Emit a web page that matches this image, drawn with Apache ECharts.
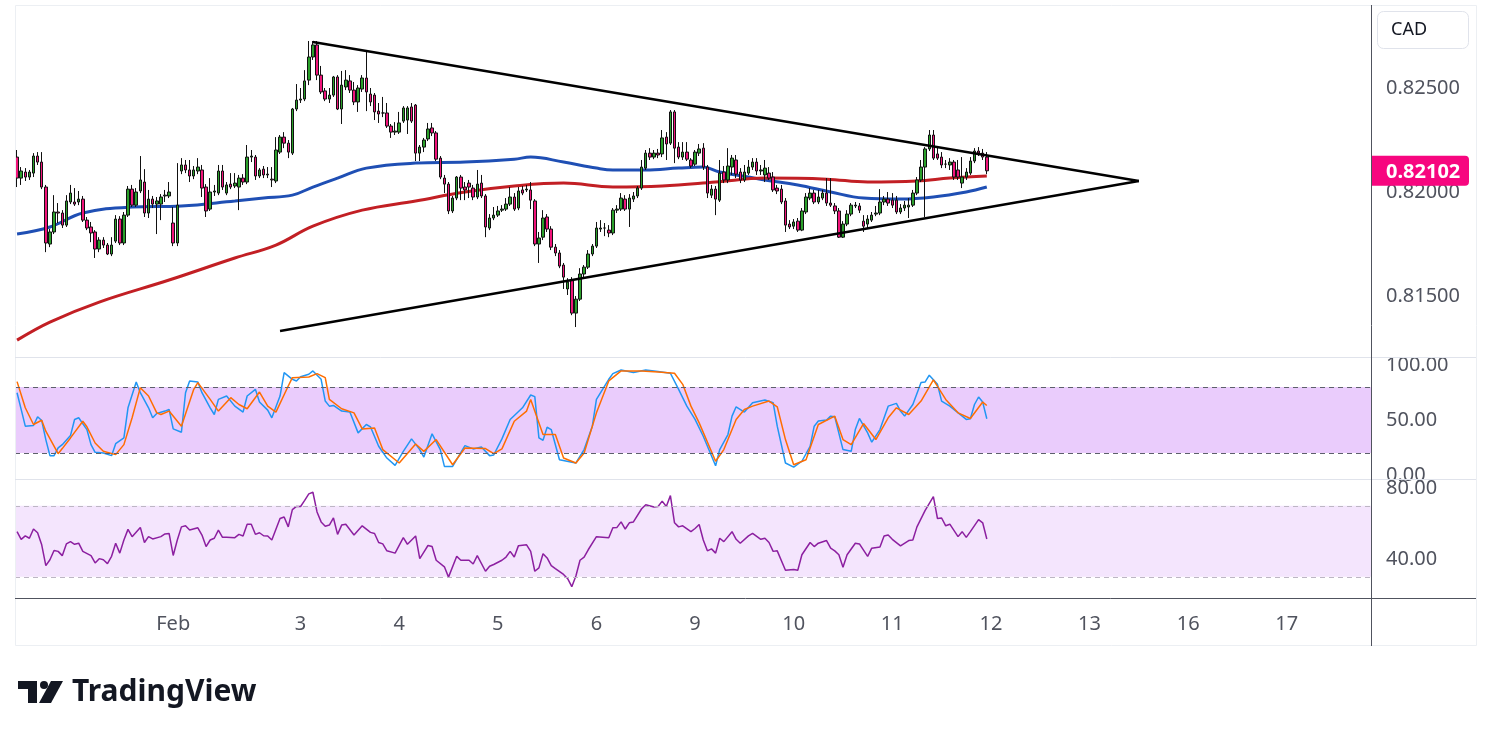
<!DOCTYPE html>
<html>
<head>
<meta charset="utf-8">
<title>CAD 1H</title>
<script src="https://cdn.jsdelivr.net/npm/echarts@6/dist/echarts.min.js"></script>
<style>
  html, body { margin: 0; padding: 0; background: #fff; }
  #chart { width: 1491px; height: 737px; }
</style>
</head>
<body>
<div id="chart"></div>
<script>
// hourly bars, Jan 29 .. Feb 12, plus empty future slots up to Feb 17
const slotCount = 330;
const tickIndex = [38, 69, 93, 117, 141, 165, 189, 213, 237, 261, 285, 309];
const tickLabels = ['Feb', '3', '4', '5', '6', '9', '10', '11', '12', '13', '16', '17'];

// [open, close, low, high]
const candles = [
  [0.82168,0.82067,0.82024,0.82202],[0.82067,0.82101,0.82034,0.82120],[0.82096,0.82072,0.82053,0.82115],[0.82072,0.82096,0.82058,0.82106],
  [0.82091,0.82173,0.82072,0.82187],[0.82173,0.82144,0.82130,0.82192],[0.82144,0.82024,0.82014,0.82192],[0.82024,0.81755,0.81711,0.82034],
  [0.81750,0.81808,0.81735,0.81822],[0.81808,0.81904,0.81798,0.81985],[0.81904,0.81899,0.81851,0.81947],[0.81899,0.81841,0.81827,0.81913],
  [0.81841,0.81957,0.81832,0.81985],[0.81952,0.81995,0.81942,0.82034],[0.81952,0.81942,0.81933,0.82019],[0.81952,0.81966,0.81937,0.82005],
  [0.81966,0.81865,0.81856,0.81981],[0.81865,0.81827,0.81817,0.81880],[0.81832,0.81803,0.81759,0.81856],[0.81808,0.81726,0.81683,0.81817],
  [0.81726,0.81769,0.81711,0.81783],[0.81769,0.81745,0.81731,0.81783],[0.81745,0.81702,0.81697,0.81755],[0.81702,0.81745,0.81692,0.81783],
  [0.81764,0.81870,0.81755,0.81889],[0.81870,0.81755,0.81745,0.81884],[0.81755,0.81889,0.81745,0.81904],[0.81889,0.82014,0.81880,0.82029],
  [0.82014,0.81937,0.81928,0.82034],[0.81937,0.82000,0.81928,0.82019],[0.82005,0.82058,0.81995,0.82173],[0.82048,0.81899,0.81880,0.82110],
  [0.81899,0.81966,0.81875,0.82010],[0.81966,0.81942,0.81923,0.81981],[0.81942,0.81957,0.81798,0.81976],[0.81942,0.81976,0.81865,0.81990],
  [0.81981,0.81985,0.81952,0.82010],[0.81981,0.82000,0.81971,0.82048],[0.81851,0.81755,0.81740,0.81928],[0.81755,0.81937,0.81740,0.82139],
  [0.82101,0.82130,0.82086,0.82163],[0.82130,0.82106,0.82091,0.82154],[0.82106,0.82077,0.82048,0.82154],[0.82077,0.82106,0.82062,0.82125],
  [0.82101,0.82120,0.82086,0.82163],[0.82106,0.82019,0.81976,0.82130],[0.82024,0.81909,0.81880,0.82038],[0.81918,0.82000,0.81909,0.82067],
  [0.82000,0.82005,0.81981,0.82034],[0.81995,0.82101,0.81985,0.82130],[0.82101,0.82024,0.82010,0.82130],[0.81995,0.82034,0.81985,0.82048],
  [0.82038,0.82024,0.82014,0.82091],[0.82029,0.82043,0.82019,0.82091],[0.82024,0.82067,0.81913,0.82082],[0.82067,0.82048,0.82034,0.82086],
  [0.82048,0.82168,0.82038,0.82226],[0.82168,0.82173,0.82144,0.82202],[0.82168,0.82077,0.82058,0.82178],[0.82077,0.82106,0.82067,0.82115],
  [0.82110,0.82082,0.82067,0.82125],[0.82082,0.82086,0.82067,0.82120],[0.82062,0.82058,0.82024,0.82120],[0.82053,0.82202,0.82043,0.82264],
  [0.82192,0.82264,0.82183,0.82274],[0.82264,0.82235,0.82211,0.82288],[0.82235,0.82192,0.82163,0.82250],[0.82187,0.82399,0.82178,0.82404],
  [0.82399,0.82442,0.82389,0.82519],[0.82442,0.82447,0.82428,0.82500],[0.82447,0.82534,0.82437,0.82586],[0.82538,0.82649,0.82514,0.82726],
  [0.82649,0.82707,0.82635,0.82726],[0.82707,0.82562,0.82538,0.82726],[0.82562,0.82481,0.82471,0.82606],[0.82486,0.82447,0.82437,0.82500],
  [0.82447,0.82466,0.82428,0.82500],[0.82466,0.82553,0.82457,0.82558],[0.82553,0.82399,0.82394,0.82562],[0.82399,0.82514,0.82327,0.82582],
  [0.82505,0.82538,0.82490,0.82586],[0.82534,0.82490,0.82476,0.82562],[0.82490,0.82433,0.82418,0.82529],[0.82433,0.82500,0.82385,0.82514],
  [0.82495,0.82548,0.82481,0.82562],[0.82548,0.82481,0.82389,0.82673],[0.82471,0.82433,0.82413,0.82500],[0.82466,0.82385,0.82346,0.82476],
  [0.82389,0.82375,0.82332,0.82428],[0.82380,0.82380,0.82360,0.82457],[0.82380,0.82317,0.82308,0.82428],[0.82317,0.82288,0.82260,0.82327],
  [0.82288,0.82293,0.82274,0.82336],[0.82288,0.82332,0.82279,0.82385],[0.82341,0.82404,0.82332,0.82413],[0.82346,0.82404,0.82279,0.82413],
  [0.82409,0.82341,0.82332,0.82428],[0.82418,0.82187,0.82149,0.82423],[0.82187,0.82216,0.82149,0.82226],[0.82216,0.82250,0.82192,0.82260],
  [0.82255,0.82303,0.82245,0.82332],[0.82308,0.82284,0.82269,0.82332],[0.82284,0.82158,0.82149,0.82293],[0.82163,0.82072,0.82062,0.82173],
  [0.82067,0.82038,0.81995,0.82082],[0.82038,0.81909,0.81894,0.82048],[0.81909,0.81971,0.81899,0.81981],[0.81971,0.82072,0.81961,0.82077],
  [0.82072,0.82019,0.81961,0.82082],[0.82024,0.82010,0.81961,0.82048],[0.82043,0.82024,0.81971,0.82058],[0.82019,0.81976,0.81961,0.82034],
  [0.81976,0.82038,0.81966,0.82106],[0.82043,0.81981,0.81971,0.82082],[0.81981,0.81832,0.81783,0.81990],[0.81827,0.81875,0.81817,0.81894],
  [0.81875,0.81889,0.81865,0.81928],[0.81889,0.81909,0.81880,0.81933],[0.81913,0.81918,0.81904,0.81937],[0.81918,0.81942,0.81909,0.81971],
  [0.81942,0.81976,0.81933,0.82024],[0.81976,0.81918,0.81909,0.81995],[0.81923,0.82005,0.81913,0.82024],[0.82010,0.81995,0.81985,0.82029],
  [0.82010,0.82014,0.82000,0.82034],[0.82010,0.81961,0.81918,0.82048],[0.81957,0.81750,0.81740,0.81966],[0.81750,0.81779,0.81659,0.81808],
  [0.81783,0.81875,0.81769,0.81913],[0.81880,0.81822,0.81808,0.81894],[0.81822,0.81735,0.81721,0.81836],[0.81735,0.81707,0.81692,0.81750],
  [0.81707,0.81644,0.81634,0.81721],[0.81649,0.81591,0.81534,0.81659],[0.81534,0.81567,0.81505,0.81586],[0.81577,0.81418,0.81408,0.81591],
  [0.81418,0.81485,0.81351,0.81500],[0.81485,0.81606,0.81476,0.81634],[0.81606,0.81639,0.81591,0.81649],[0.81639,0.81702,0.81630,0.81721],
  [0.81702,0.81740,0.81692,0.81750],[0.81740,0.81827,0.81731,0.81856],[0.81822,0.81827,0.81808,0.81865],[0.81827,0.81827,0.81788,0.81851],
  [0.81817,0.81803,0.81783,0.81841],[0.81803,0.81913,0.81793,0.81923],[0.81913,0.81918,0.81899,0.81937],[0.81918,0.81971,0.81909,0.81995],
  [0.81966,0.81918,0.81909,0.81985],[0.81918,0.81971,0.81832,0.81990],[0.81966,0.81981,0.81952,0.82000],[0.81981,0.82019,0.81971,0.82029],
  [0.82019,0.82120,0.82010,0.82154],[0.82115,0.82187,0.82106,0.82202],[0.82187,0.82168,0.82154,0.82211],[0.82168,0.82187,0.82158,0.82202],
  [0.82187,0.82178,0.82163,0.82207],[0.82183,0.82260,0.82168,0.82298],[0.82264,0.82231,0.82154,0.82288],[0.82235,0.82385,0.82226,0.82394],
  [0.82385,0.82211,0.82139,0.82394],[0.82216,0.82168,0.82158,0.82240],[0.82168,0.82192,0.82154,0.82240],[0.82192,0.82158,0.82149,0.82240],
  [0.82154,0.82125,0.82115,0.82163],[0.82134,0.82192,0.82125,0.82202],[0.82187,0.82207,0.82173,0.82231],[0.82211,0.82120,0.82106,0.82235],
  [0.82120,0.81995,0.81971,0.82130],[0.81985,0.82014,0.81971,0.82034],[0.82014,0.81966,0.81889,0.82029],[0.81961,0.82091,0.81952,0.82154],
  [0.82096,0.82058,0.82043,0.82125],[0.82058,0.82125,0.82043,0.82211],[0.82120,0.82163,0.82082,0.82178],[0.82154,0.82086,0.82067,0.82178],
  [0.82096,0.82058,0.82043,0.82115],[0.82058,0.82096,0.82048,0.82130],[0.82091,0.82120,0.82082,0.82154],[0.82120,0.82144,0.82106,0.82163],
  [0.82144,0.82101,0.82082,0.82163],[0.82101,0.82106,0.82082,0.82130],[0.82082,0.82115,0.82048,0.82154],[0.82091,0.82067,0.82058,0.82120],
  [0.82072,0.82010,0.82000,0.82096],[0.82019,0.82005,0.81990,0.82034],[0.82014,0.81952,0.81942,0.82034],[0.81957,0.81841,0.81808,0.81971],
  [0.81846,0.81832,0.81822,0.81865],[0.81836,0.81856,0.81822,0.81870],[0.81860,0.81817,0.81808,0.81875],[0.81817,0.81909,0.81812,0.81923],
  [0.81904,0.81976,0.81894,0.81995],[0.81971,0.81995,0.81961,0.82019],[0.81995,0.81952,0.81942,0.82010],[0.81952,0.81976,0.81942,0.82010],
  [0.81971,0.81995,0.81961,0.82010],[0.81995,0.81947,0.81933,0.82067],[0.81947,0.81937,0.81928,0.82067],[0.81933,0.81909,0.81894,0.81947],
  [0.81909,0.81783,0.81779,0.81923],[0.81783,0.81846,0.81779,0.81860],[0.81846,0.81894,0.81836,0.81913],[0.81894,0.81937,0.81884,0.81947],
  [0.81933,0.81937,0.81923,0.81952],[0.81933,0.81913,0.81899,0.81947],[0.81860,0.81836,0.81808,0.81889],[0.81846,0.81870,0.81822,0.81889],
  [0.81865,0.81889,0.81856,0.81904],[0.81894,0.81899,0.81884,0.81933],[0.81899,0.81952,0.81889,0.82014],[0.81952,0.81966,0.81937,0.81981],
  [0.81966,0.81947,0.81933,0.82000],[0.81961,0.81937,0.81923,0.81995],[0.81961,0.81904,0.81894,0.81981],[0.81904,0.81923,0.81894,0.81942],
  [0.81923,0.81937,0.81909,0.81957],[0.81928,0.81937,0.81875,0.81971],[0.81937,0.81995,0.81928,0.82010],[0.81995,0.82058,0.81985,0.82072],
  [0.82058,0.82120,0.82048,0.82154],[0.82120,0.82207,0.81880,0.82216],[0.82207,0.82274,0.82197,0.82298],[0.82274,0.82163,0.82154,0.82298],
  [0.82183,0.82163,0.82154,0.82216],[0.82168,0.82130,0.82115,0.82192],[0.82134,0.82134,0.82115,0.82154],[0.82130,0.82144,0.82106,0.82163],
  [0.82144,0.82072,0.82058,0.82154],[0.82106,0.82072,0.82058,0.82154],[0.82043,0.82072,0.82019,0.82168],[0.82072,0.82096,0.82058,0.82115],
  [0.82091,0.82149,0.82082,0.82168],[0.82149,0.82197,0.82139,0.82211],[0.82197,0.82187,0.82173,0.82216],[0.82187,0.82168,0.82154,0.82207],
  [0.82168,0.82102,0.82086,0.82192]
];

// moving averages, read at sampled bars: [bar, value]
const blueMA = [
  [0,0.81798],[8,0.81832],[16,0.81899],[28,0.81928],[40,0.81933],[53,0.81957],[60,0.81971],[67,0.81985],
  [72,0.82024],[78,0.82067],[85,0.82115],[97,0.82139],[109,0.82144],[121,0.82158],[125,0.82168],[133,0.82144],
  [141,0.82115],[145,0.82106],[153,0.82106],[161,0.82115],[167,0.82120],[171,0.82096],[178,0.82072],[182,0.82058],
  [190,0.82034],[198,0.82000],[206,0.81971],[215,0.81966],[223,0.81976],[231,0.82000],[236,0.82024]
];
const redMA = [
  [0,0.81288],[8,0.81375],[20,0.81471],[37,0.81577],[53,0.81683],[63,0.81745],[72,0.81836],[84,0.81913],
  [97,0.81957],[109,0.82000],[121,0.82029],[133,0.82043],[145,0.82024],[157,0.82029],[170,0.82048],[182,0.82067],
  [197,0.82062],[207,0.82048],[219,0.82053],[227,0.82067],[236,0.82077]
];

// triangle trend lines
const upperTrend = [[72, 0.82721], [273, 0.82053]];
const lowerTrend = [[64, 0.81332], [273, 0.82053]];

// stochastic %K / %D
const stochK = [
  [0,74.8],[1,59.6],[2,44.4],[4,45],[5,52.9],[6,49.5],[7,32.2],[8,17.6],[9,17.6],[10,24.6],[11,27.6],[13,35.8],
  [14,50.5],[15,52],[17,41.3],[18,27.6],[19,20.6],[21,20],[23,17.6],[24,28.5],[26,33.7],[27,61.1],[29,84.6],[30,74.8],
  [32,61.1],[33,52],[34,55.9],[36,58.1],[37,59.6],[38,41.9],[40,38.9],[41,74.8],[42,85.5],[44,84.6],[45,74.8],[47,61.1],
  [48,55],[49,68.7],[51,71.8],[53,62.6],[55,57.2],[56,71.8],[58,77.9],[59,66.3],[61,59],[62,52],[64,71.8],[65,93.1],
  [67,87],[68,85.5],[69,89.4],[71,91.6],[72,94.6],[74,87],[75,67.2],[76,62.6],[77,63.2],[79,58.1],[81,57.2],[83,38.3],
  [85,45.9],[86,43.8],[88,26.1],[90,15.4],[92,8.7],[94,21.5],[96,32.8],[98,23.1],[99,16.3],[101,37.4],[103,23.1],[104,7.8],
  [106,7.8],[109,26.7],[111,23.7],[113,25.5],[115,17.6],[116,18.2],[118,32.8],[120,50.5],[123,61.1],[125,72.7],[126,71.2],[127,33.7],
  [128,31.6],[129,43.4],[130,41.3],[132,13.9],[136,10.9],[138,23.1],[140,44.4],[141,68.7],[144,87],[145,92.2],[147,95.5],[150,93.1],
  [153,95.5],[156,94],[159,92.5],[161,77.9],[163,62.6],[165,50.5],[167,35.2],[170,8.4],[171,23.1],[173,36.8],[174,53.5],[175,62],
  [177,57.2],[179,65.7],[182,68.1],[184,65.7],[185,44.4],[187,10.9],[189,7.2],[191,12.5],[193,26.1],[194,44.4],[195,49],[197,49.9],
  [198,53.5],[199,52.9],[201,23.1],[203,21.5],[204,41.3],[205,51.4],[207,38.3],[208,29.8],[210,41.3],[212,62.6],[214,65.1],[215,58.1],
  [216,53.5],[218,64.1],[220,84],[221,84.6],[222,90.7],[224,82.4],[225,67.2],[227,62.6],[231,50.5],[232,51.1],[233,64.1],[234,70.9],
  [235,66.3],[236,51.1]
];
const stochD = [
  [0,84.9],[2,61.1],[4,45.9],[6,49.8],[7,39.8],[10,19.4],[11,24],[13,33.7],[16,48.9],[17,43.8],[19,29.1],[21,21.5],
  [24,18.5],[26,27.6],[28,52],[30,79.4],[32,71.8],[34,56.5],[35,55],[37,58.1],[40,44.4],[43,77.9],[44,84],[47,68.7],
  [49,58.1],[52,70.3],[54,64.1],[56,60.2],[59,75.4],[61,62.6],[63,57.2],[66,80.9],[67,88.5],[71,89.1],[73,92.2],[75,88.5],
  [76,68.7],[79,60.2],[82,56.5],[84,41.9],[87,42.8],[89,23.1],[93,10.9],[97,28.2],[99,21.5],[102,32.2],[106,9.3],[109,24.6],
  [114,24],[116,19.4],[118,23.7],[121,48.9],[124,58.1],[125,68.7],[128,36.8],[131,36.8],[133,15.4],[136,10.9],[138,20],[141,56.5],
  [144,85.5],[147,94.6],[152,94.6],[156,93.7],[160,92.5],[162,82.4],[164,62.6],[166,47.4],[170,12.5],[172,23.1],[175,50.5],[177,59.6],
  [179,62.6],[183,67.2],[185,62],[187,32.2],[189,9.3],[192,13.9],[195,45.9],[199,53.5],[201,32.2],[203,27.6],[206,46.8],[209,32.2],
  [212,52],[214,61.1],[217,55],[220,67.2],[223,86.4],[226,68.7],[229,56.5],[232,51.4],[235,66.3],[236,63.2]
];

// RSI
const rsi = [
  [0,55.4],[1,51.1],[2,53],[3,51.7],[4,56.9],[5,54.8],[6,48],[7,36.3],[8,39.6],[9,44.8],[10,44.3],[11,41.9],
  [12,48.5],[13,49.8],[14,48.3],[15,48.9],[16,44.3],[18,41.9],[19,37.8],[20,40.2],[21,39.6],[22,37.4],[23,41.5],[24,48.9],
  [25,43.3],[26,50.7],[27,56.7],[28,52.6],[30,57.8],[31,49.3],[32,52.6],[33,51.3],[35,52.6],[36,54.1],[37,54.4],[38,42],
  [39,50.7],[40,58.1],[41,58.7],[42,56.3],[44,57.6],[45,53.5],[46,47],[47,50.7],[48,51.7],[49,56.3],[50,52.2],[51,52.2],
  [53,52],[54,53.9],[55,53],[56,59.6],[57,59.6],[58,53.9],[59,54.8],[60,53.1],[61,53],[62,50.7],[64,62.8],[65,63.7],
  [66,58.1],[67,67.8],[68,69.6],[69,69.6],[70,73],[71,76.7],[72,77.6],[73,66.5],[74,60.9],[75,58.5],[76,59.1],[77,63.1],
  [78,53.9],[79,59.1],[80,59.6],[82,53.5],[84,58.7],[86,55],[87,54.4],[88,49.3],[89,48.5],[90,44.6],[92,43.3],[94,52],
  [95,48.3],[97,53],[98,40.2],[99,43.9],[100,47.6],[101,47],[102,39.3],[104,35.6],[105,29.8],[107,41.5],[108,39.3],[110,39.3],
  [111,37.2],[112,41.9],[114,33.1],[115,35.9],[116,36.9],[118,39.3],[119,41.1],[120,44.3],[121,41.1],[122,47.4],[124,48],[125,44.3],
  [126,33.1],[127,35],[128,43],[129,40.6],[130,36.3],[131,34.6],[133,31.3],[134,28.9],[135,24.4],[136,30.4],[137,39.3],[138,41.1],
  [139,45.2],[141,52.6],[144,52],[145,57.6],[146,57.8],[147,60.9],[148,56.9],[149,60.4],[150,60.9],[152,68.3],[153,70.6],[155,69.3],
  [156,69.6],[157,72.6],[158,69.6],[159,75.7],[160,60.4],[161,58.1],[162,58.7],[164,55.4],[165,57.2],[166,59.4],[167,50.7],[168,44.6],
  [169,45.7],[170,43.3],[171,51.7],[172,49.8],[174,55.4],[175,51.1],[176,48.9],[178,53],[179,54.4],[181,51.1],[182,51.7],[183,49.3],
  [184,44.3],[185,44.6],[187,33.7],[189,34.1],[190,33.7],[191,42.4],[193,49.3],[194,47],[195,48.9],[197,50.4],[198,46.1],[199,44.6],
  [200,42.4],[201,35.4],[202,42.4],[204,48.9],[205,48.5],[207,41.5],[208,46.1],[210,46.7],[211,53],[212,53.5],[213,51.1],[215,47.4],
  [217,50.4],[218,50.7],[219,58.1],[221,67.4],[223,75.2],[224,62.8],[225,63.1],[226,58.7],[227,59.6],[229,52.6],[230,55.4],[231,52.2],
  [232,55.4],[234,62.2],[235,60.4],[236,51.3]
];

const lastClose = candles[candles.length - 1][1];

const categories = Array.from({ length: slotCount }, (_, i) => String(i));
const tickMap = {};
tickIndex.forEach((idx, k) => { tickMap[idx] = tickLabels[k]; });

const labelFont = { fontFamily: 'Noto Sans', fontSize: 20, color: '#50535e' };
const plotLeft = 15, plotWidth = 1356;

function xAxisFor(gridIndex, showLabels) {
    return {
        type: 'category',
        gridIndex: gridIndex,
        data: categories,
        boundaryGap: true,
        axisLine: { show: false },
        axisTick: { show: false },
        splitLine: { show: false },
        axisLabel: showLabels ? {
            show: true,
            margin: 16,
            ...labelFont,
            interval: (idx) => tickMap[idx] !== undefined,
            formatter: (val, idx) => tickMap[idx] || ''
        } : { show: false }
    };
}

function yAxisFor(gridIndex, min, max, values, digits) {
    return {
        type: 'value',
        gridIndex: gridIndex,
        position: 'right',
        min: min,
        max: max,
        scale: true,
        axisLine: { show: false },
        axisTick: { show: false },
        splitLine: { show: false },
        axisLabel: {
            show: true,
            margin: 15,
            ...labelFont,
            customValues: values,
            formatter: (v) => v.toFixed(digits)
        }
    };
}

function thinLine(name, data, color, xi, width) {
    return {
        name: name,
        type: 'line',
        xAxisIndex: xi,
        yAxisIndex: xi,
        data: data,
        symbol: 'none',
        silent: true,
        lineStyle: { color: color, width: width || 1.5 },
        z: 3
    };
}

const chart = echarts.init(document.getElementById('chart'), null, { renderer: 'canvas' });

const option = {
    animation: false,
    backgroundColor: '#ffffff',
    grid: [
        { left: plotLeft, top: 5, width: plotWidth, height: 352 },
        { left: plotLeft, top: 357, width: plotWidth, height: 122 },
        { left: plotLeft, top: 479, width: plotWidth, height: 119 }
    ],
    xAxis: [xAxisFor(0, false), xAxisFor(1, false), xAxisFor(2, true)],
    yAxis: [
        yAxisFor(0, 0.81207, 0.82899, [0.815, 0.82, 0.825], 5),
        yAxisFor(1, -3.64, 107.27, [0, 50, 100], 2),
        yAxisFor(2, 18.03, 85.07, [40, 80], 2)
    ],
    series: [
        {
            name: 'CAD',
            type: 'candlestick',
            xAxisIndex: 0,
            yAxisIndex: 0,
            data: candles,
            barWidth: 3,
            silent: true,
            itemStyle: {
                color: '#2ba02b',
                color0: '#f0147a',
                borderColor: '#111111',
                borderColor0: '#111111',
                borderWidth: 1
            },
            z: 4
        },
        {
            name: 'MA fast',
            type: 'line',
            data: blueMA,
            smooth: 0.4,
            symbol: 'none',
            silent: true,
            lineStyle: { color: '#1f4fb4', width: 3 },
            z: 3
        },
        {
            name: 'MA slow',
            type: 'line',
            data: redMA,
            smooth: 0.4,
            symbol: 'none',
            silent: true,
            lineStyle: { color: '#c21f24', width: 3 },
            z: 3
        },
        {
            name: 'upper',
            type: 'line',
            data: upperTrend,
            symbol: 'none',
            silent: true,
            lineStyle: { color: '#000000', width: 2.5 },
            z: 5
        },
        {
            name: 'lower',
            type: 'line',
            data: lowerTrend,
            symbol: 'none',
            silent: true,
            lineStyle: { color: '#000000', width: 2.5 },
            z: 5
        },
        Object.assign(thinLine('%K', stochK, '#2196f3', 1), {
            markArea: {
                silent: true,
                itemStyle: { color: '#eaccfc' },
                data: [[{ yAxis: 20 }, { yAxis: 80 }]]
            },
            markLine: {
                silent: true,
                symbol: 'none',
                label: { show: false },
                lineStyle: { color: '#5d606b', type: [5, 4], width: 1 },
                data: [{ yAxis: 80 }, { yAxis: 20 }]
            }
        }),
        thinLine('%D', stochD, '#ff6d00', 1),
        Object.assign(thinLine('RSI', rsi, '#8c1fa0', 2), {
            markArea: {
                silent: true,
                itemStyle: { color: '#f4e5fd' },
                data: [[{ yAxis: 30 }, { yAxis: 70 }]]
            },
            markLine: {
                silent: true,
                symbol: 'none',
                label: { show: false },
                lineStyle: { color: '#bdb6c4', type: [5, 4], width: 1 },
                data: [{ yAxis: 70 }, { yAxis: 30 }]
            }
        })
    ]
};

chart.setOption(option);

// price scale badge, frame, separators and the wordmark
const priceY = chart.convertToPixel({ yAxisIndex: 0 }, lastClose);
const right = 1476, axisX = 1371;

chart.setOption({
    graphic: [
        { type: 'rect', silent: true, z: 50, shape: { x: 15.5, y: 5.5, width: right - 15, height: 640 },
          style: { fill: 'none', stroke: '#eceff3', lineWidth: 1 } },
        { type: 'line', silent: true, z: 50, shape: { x1: 15, y1: 357.5, x2: right, y2: 357.5 },
          style: { stroke: '#e0e3eb', lineWidth: 1 } },
        { type: 'line', silent: true, z: 50, shape: { x1: 15, y1: 479.5, x2: right, y2: 479.5 },
          style: { stroke: '#e0e3eb', lineWidth: 1 } },
        { type: 'line', silent: true, z: 50, shape: { x1: 15, y1: 598.5, x2: right, y2: 598.5 },
          style: { stroke: '#50535e', lineWidth: 1 } },
        { type: 'line', silent: true, z: 50, shape: { x1: axisX + 0.5, y1: 5, x2: axisX + 0.5, y2: 646 },
          style: { stroke: '#50535e', lineWidth: 1 } },
        { type: 'rect', silent: true, z: 60, shape: { x: 1377.5, y: 11.5, width: 91, height: 37, r: 6 },
          style: { fill: '#ffffff', stroke: '#e0e3eb', lineWidth: 1 } },
        { type: 'text', silent: true, z: 61, x: 1391, y: 30,
          style: { text: 'CAD', fontFamily: 'Noto Sans', fontSize: 18, fill: '#131722', verticalAlign: 'middle' } },
        { type: 'rect', silent: true, z: 60, shape: { x: axisX + 1, y: priceY - 15, width: 97, height: 30, r: [0, 4, 4, 0] },
          style: { fill: '#f7067f' } },
        { type: 'text', silent: true, z: 61, x: 1386, y: priceY + 1,
          style: { text: lastClose.toFixed(5), fontFamily: 'Noto Sans', fontSize: 20, fontWeight: 'bold',
                   fill: '#ffffff', verticalAlign: 'middle' } },
        // TradingView mark
        { type: 'rect', silent: true, shape: { x: 18, y: 681, width: 19, height: 8 }, style: { fill: '#131722' } },
        { type: 'rect', silent: true, shape: { x: 28, y: 681, width: 9, height: 22 }, style: { fill: '#131722' } },
        { type: 'circle', silent: true, shape: { cx: 44, cy: 685, r: 4 }, style: { fill: '#131722' } },
        { type: 'polygon', silent: true, shape: { points: [[51, 681], [63, 681], [51, 703], [39, 703]] },
          style: { fill: '#131722' } },
        { type: 'text', silent: true, x: 72, y: 692,
          style: { text: 'TradingView', fontFamily: 'Noto Sans', fontSize: 30, fontWeight: 'bold',
                   fill: '#131722', verticalAlign: 'middle' } }
    ]
});
</script>
</body>
</html>
